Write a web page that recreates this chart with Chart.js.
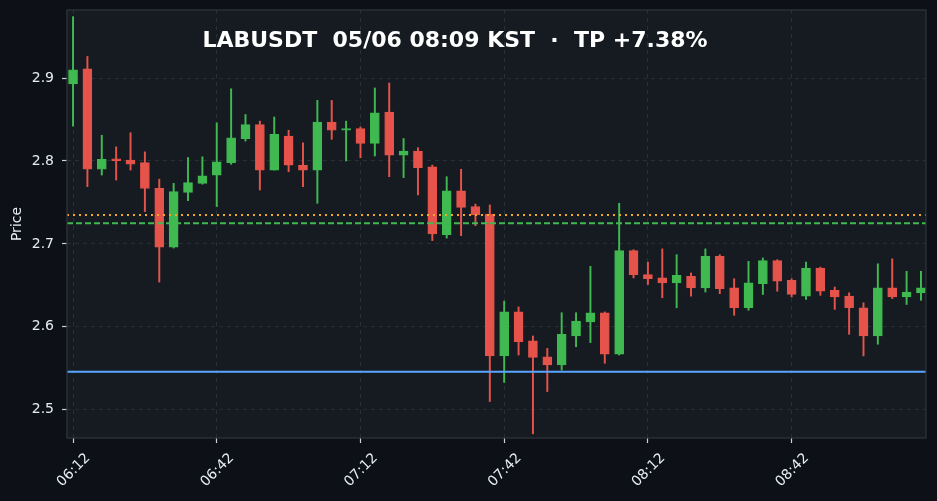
<!DOCTYPE html>
<html>
<head>
<meta charset="utf-8">
<script src="https://cdn.jsdelivr.net/npm/chart.js@4.4.1/dist/chart.umd.min.js"></script>
<style>
  html, body { margin: 0; padding: 0; background: #0d1117; }
  #wrap { width: 937px; height: 501px; }
</style>
</head>
<body>
<div id="wrap"><canvas id="ctx_candles" width="937" height="501"></canvas></div>
<script>
// 3-minute candles, 06:12 .. 09:09 KST
var times = [
    '06:12', '06:15', '06:18', '06:21', '06:24', '06:27', '06:30', '06:33', '06:36', '06:39',
    '06:42', '06:45', '06:48', '06:51', '06:54', '06:57', '07:00', '07:03', '07:06', '07:09',
    '07:12', '07:15', '07:18', '07:21', '07:24', '07:27', '07:30', '07:33', '07:36', '07:39',
    '07:42', '07:45', '07:48', '07:51', '07:54', '07:57', '08:00', '08:03', '08:06', '08:09',
    '08:12', '08:15', '08:18', '08:21', '08:24', '08:27', '08:30', '08:33', '08:36', '08:39',
    '08:42', '08:45', '08:48', '08:51', '08:54', '08:57', '09:00', '09:03', '09:06', '09:09'
];
var opens = [
    2.893, 2.911, 2.790, 2.8025, 2.801, 2.798, 2.767, 2.696, 2.762, 2.773,
    2.783, 2.798, 2.827, 2.844, 2.789, 2.830, 2.795, 2.789, 2.847, 2.837,
    2.839, 2.821, 2.859, 2.807, 2.812, 2.793, 2.711, 2.764, 2.745, 2.736,
    2.565, 2.618, 2.583, 2.564, 2.554, 2.589, 2.606, 2.617, 2.567, 2.692,
    2.663, 2.659, 2.653, 2.661, 2.647, 2.685, 2.647, 2.623, 2.652, 2.680,
    2.656, 2.637, 2.671, 2.644, 2.637, 2.623, 2.589, 2.647, 2.636, 2.641
];
var highs = [
    2.974, 2.926, 2.831, 2.817, 2.834, 2.811, 2.778, 2.773, 2.804, 2.805,
    2.846, 2.887, 2.856, 2.848, 2.853, 2.837, 2.822, 2.873, 2.873, 2.848,
    2.841, 2.888, 2.894, 2.827, 2.816, 2.795, 2.781, 2.790, 2.748, 2.747,
    2.631, 2.624, 2.589, 2.574, 2.617, 2.617, 2.673, 2.618, 2.749, 2.693,
    2.678, 2.694, 2.687, 2.665, 2.694, 2.687, 2.658, 2.679, 2.683, 2.681,
    2.658, 2.678, 2.672, 2.648, 2.641, 2.629, 2.676, 2.682, 2.667, 2.667
];
var lows = [
    2.842, 2.769, 2.783, 2.777, 2.789, 2.739, 2.654, 2.695, 2.752, 2.772,
    2.745, 2.796, 2.824, 2.765, 2.789, 2.787, 2.769, 2.749, 2.826, 2.800,
    2.804, 2.806, 2.781, 2.780, 2.759, 2.704, 2.707, 2.710, 2.722, 2.510,
    2.533, 2.566, 2.471, 2.522, 2.548, 2.576, 2.581, 2.556, 2.566, 2.659,
    2.651, 2.635, 2.623, 2.637, 2.642, 2.640, 2.614, 2.620, 2.639, 2.643,
    2.636, 2.633, 2.638, 2.621, 2.591, 2.565, 2.579, 2.634, 2.627, 2.632
];
var closes = [
    2.910, 2.790, 2.802, 2.8005, 2.796, 2.767, 2.696, 2.763, 2.774, 2.782,
    2.799, 2.828, 2.844, 2.789, 2.832, 2.795, 2.789, 2.847, 2.837, 2.839,
    2.821, 2.858, 2.807, 2.812, 2.792, 2.712, 2.764, 2.744, 2.735, 2.565,
    2.618, 2.582, 2.563, 2.554, 2.591, 2.607, 2.617, 2.567, 2.692, 2.663,
    2.658, 2.653, 2.662, 2.647, 2.685, 2.646, 2.623, 2.653, 2.680, 2.655,
    2.639, 2.671, 2.643, 2.636, 2.623, 2.589, 2.647, 2.636, 2.642, 2.647
];

var tpPrice    = 2.735;   // orange dotted
var entryPrice = 2.725;   // green dashed
var slPrice    = 2.546;   // blue solid

var xTickIndex = [0, 10, 20, 30, 40, 50];
var yTicks     = [2.5, 2.6, 2.7, 2.8, 2.9];
var titleText  = 'LABUSDT  05/06 08:09 KST  \u00b7  TP +7.38%';

var UP   = '#3fb950';
var DOWN = '#e5534b';
var xMin = -0.42, xMax = 59.35;

function candleColor(i) { return closes[i] >= opens[i] ? UP : DOWN; }

var bodies = opens.map(function(o, i) { return { x: i, y: [o, closes[i]] }; });
var wicks  = lows.map(function(l, i) { return { x: i, y: [l, highs[i]] }; });
var colors = opens.map(function(o, i) { return candleColor(i); });

function hline(value, color, dash) {
    return {
        type: 'line',
        data: [ { x: xMin, y: value }, { x: xMax, y: value } ],
        borderColor: color,
        borderWidth: 2,
        borderDash: dash,
        pointRadius: 0,
        fill: false,
        order: -1,
    };
}

var panelPlugin = {
    id: 'panel',
    beforeDraw: function(chart) {
        var c = chart.ctx, a = chart.chartArea;
        c.save();
        c.fillStyle = '#0d1117';
        c.fillRect(0, 0, chart.width, chart.height);
        c.fillStyle = '#161b22';
        c.fillRect(a.left, a.top, a.right - a.left, a.bottom - a.top);
        c.restore();
    },
    afterDraw: function(chart) {
        var c = chart.ctx, a = chart.chartArea;
        c.save();
        c.strokeStyle = '#30363d';
        c.lineWidth = 1.2;
        c.strokeRect(a.left, a.top, a.right - a.left, a.bottom - a.top);
        c.fillStyle = '#ffffff';
        c.font = 'bold 22px "DejaVu Sans"';
        c.textAlign = 'center';
        c.textBaseline = 'middle';
        c.fillText(titleText, 455, 41);
        c.restore();
    }
};

var ctx = document.getElementById('ctx_candles');
var myChart = new Chart(ctx, {
    type: 'bar',
    data: {
        datasets: [
            {
                data: bodies,
                backgroundColor: colors,
                borderColor: colors,
                borderWidth: 0.8,
                borderSkipped: false,
                barThickness: 9,
                grouped: false,
                order: 0,
            },
            {
                data: wicks,
                backgroundColor: colors,
                borderWidth: 0,
                barThickness: 1.3,
                grouped: false,
                order: 1,
            },
            hline(tpPrice, '#f5a623', [2, 4]),
            hline(entryPrice, '#3fb950', [6, 3]),
            hline(slPrice, '#58a6ff', []),
        ]
    },
    options: {
        responsive: false,
        animation: false,
        devicePixelRatio: 1,
        layout: { padding: { left: 0, top: 10, right: 11, bottom: 0 } },
        plugins: {
            legend: { display: false },
            tooltip: { enabled: false },
        },
        scales: {
            x: {
                type: 'linear',
                min: xMin,
                max: xMax,
                offset: false,
                afterBuildTicks: function(scale) {
                    scale.ticks = xTickIndex.map(function(v) { return { value: v }; });
                },
                afterFit: function(scale) {
                    scale.height = 63;
                    scale.paddingLeft = 0;
                    scale.paddingRight = 0;
                },
                ticks: {
                    color: '#e6edf3',
                    font: { family: 'DejaVu Sans', size: 14 },
                    minRotation: 45,
                    maxRotation: 45,
                    padding: 7,
                    labelOffset: 15,
                    autoSkip: false,
                    callback: function(value) { return times[value]; },
                },
                grid: {
                    offset: false,
                    color: 'rgba(110,118,129,0.22)',
                    tickColor: '#c9d1d9',
                    tickLength: 5,
                    tickWidth: 1.2,
                },
                border: { display: false, dash: [4, 4] },
            },
            y: {
                min: 2.466,
                max: 2.982,
                afterBuildTicks: function(scale) {
                    scale.ticks = yTicks.map(function(v) { return { value: v }; });
                },
                afterFit: function(scale) {
                    scale.width = 67;
                    scale.paddingTop = 0;
                    scale.paddingBottom = 0;
                },
                ticks: {
                    color: '#e6edf3',
                    font: { family: 'DejaVu Sans', size: 14 },
                    padding: 8,
                    callback: function(value) { return value.toFixed(1); },
                },
                grid: {
                    color: 'rgba(110,118,129,0.22)',
                    tickColor: '#c9d1d9',
                    tickLength: 5,
                    tickWidth: 1.2,
                },
                border: { display: false, dash: [4, 4] },
                title: {
                    display: true,
                    text: 'Price',
                    color: '#e6edf3',
                    font: { family: 'DejaVu Sans', size: 14 },
                    padding: { top: 9, bottom: 0 },
                },
            },
        },
    },
    plugins: [panelPlugin],
});
</script>
</body>
</html>
